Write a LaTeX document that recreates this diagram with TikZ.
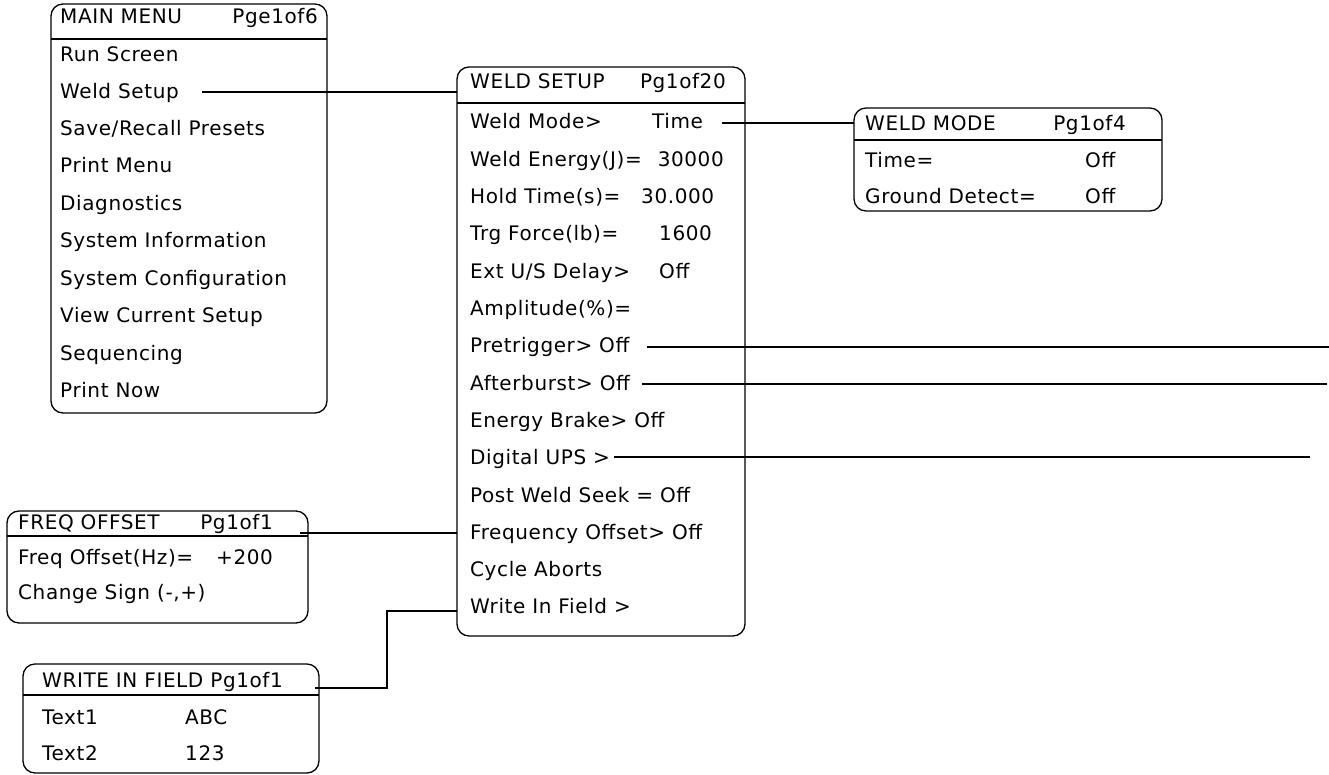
\documentclass[tikz,border=0pt]{standalone}
\usepackage{fontspec}
\setmainfont{DejaVu Sans}[LetterSpace=3.0]
\newcommand\mfs{\fontsize{20}{24}\selectfont}
\begin{document}
\begin{tikzpicture}[x=1pt,y=-1pt,
  box/.style={draw, line width=1.3pt, rounded corners=12pt, inner sep=0pt, outer sep=0pt},
  txt/.style={anchor=base west, inner sep=0pt, font=\mfs},
  rtxt/.style={anchor=base east, inner sep=0pt, font=\mfs},
  conn/.style={line width=1.3pt},
  divl/.style={line width=1.3pt}]
\useasboundingbox (0,0) rectangle (1329,775);

% ---------- boxes ----------
\node[box, minimum width=276pt, minimum height=409pt] (mm) at (189,208.5) {};
\node[box, minimum width=288pt, minimum height=569pt] (ws) at (601,351.5) {};
\node[box, minimum width=308pt, minimum height=103pt] (wm) at (1008,159.5) {};
\node[box, minimum width=301pt, minimum height=112pt] (fo) at (157.5,567) {};
\node[box, minimum width=296pt, minimum height=109pt] (wf) at (171,718.5) {};

% ---------- header dividers ----------
\draw[divl] ([yshift=-35pt]mm.north west) -- ([yshift=-35pt]mm.north east);
\draw[divl] ([yshift=-36pt]ws.north west) -- ([yshift=-36pt]ws.north east);
\draw[divl] ([yshift=-32pt]wm.north west) -- ([yshift=-32pt]wm.north east);
\draw[divl] ([yshift=-25pt]fo.north west) -- ([yshift=-25pt]fo.north east);
\draw[divl] ([yshift=-31pt]wf.north west) -- ([yshift=-31pt]wf.north east);

% ---------- main menu ----------
\node[txt] (mmh) at (60,24) {MAIN MENU};
\node[rtxt] (mmp) at (318,24) {Pge1of6};
\node[txt] (mm1) at (60,62) {Run Screen};
\node[txt] (mm2) at (60,98.5) {Weld Setup};
\node[txt] (mm3) at (60,135.5) {Save/Recall Presets};
\node[txt] (mm4) at (60,173) {Print Menu};
\node[txt] (mm5) at (60,210.5) {Diagnostics};
\node[txt] (mm6) at (60,248) {System Information};
\node[txt] (mm7) at (60,285.5) {System Configuration};
\node[txt] (mm8) at (60,323) {View Current Setup};
\node[txt] (mm9) at (60,360) {Sequencing};
\node[txt] (mm10) at (60,397.5) {Print Now};

% ---------- weld setup ----------
\node[txt] (wsh) at (470,89) {WELD SETUP};
\node[rtxt] (wsp) at (726,89) {Pg1of20};
\node[txt] (ws1) at (470,129) {Weld Mode>};
\node[txt] (ws1v) at (652,129) {Time};
\node[txt] (ws2) at (470,166.3) {Weld Energy(J)=};
\node[rtxt] (ws2v) at (724,166.3) {30000};
\node[txt] (ws3) at (470,203.6) {Hold Time(s)=};
\node[txt] (ws3v) at (641,203.6) {30.000};
\node[txt] (ws4) at (470,240.9) {Trg Force(lb)=};
\node[txt] (ws4v) at (659,240.9) {1600};
\node[txt] (ws5) at (470,278.2) {Ext U/S Delay>};
\node[txt] (ws5v) at (659,278.2) {Off};
\node[txt] (ws6) at (470,315.5) {Amplitude(\%)=};
\node[txt] (ws7) at (470,352.8) {Pretrigger> Off};
\node[txt] (ws8) at (470,390.1) {Afterburst> Off};
\node[txt] (ws9) at (470,427.4) {Energy Brake> Off};
\node[txt] (ws10) at (470,464.7) {Digital UPS >};
\node[txt] (ws11) at (470,502) {Post Weld Seek = Off};
\node[txt] (ws12) at (470,539.3) {Frequency Offset> Off};
\node[txt] (ws13) at (470,576.6) {Cycle Aborts};
\node[txt] (ws14) at (470,613.9) {Write In Field >};

% ---------- weld mode ----------
\node[txt] (wmh) at (865,131) {WELD MODE};
\node[rtxt] (wmp) at (1126,131) {Pg1of4};
\node[txt] (wm1) at (865,168) {Time=};
\node[txt] (wm1v) at (1085,168) {Off};
\node[txt] (wm2) at (865,204) {Ground Detect=};
\node[txt] (wm2v) at (1085,204) {Off};

% ---------- freq offset ----------
\node[txt] (foh) at (18,529) {FREQ OFFSET};
\node[rtxt] (fop) at (273,529) {Pg1of1};
\node[txt] (fo1) at (18,564) {Freq Offset(Hz)=};
\node[txt] (fo1v) at (216,564) {+200};
\node[txt] (fo2) at (18,599) {Change Sign (-,+)};

% ---------- write in field ----------
\node[txt] (wfh) at (42,687) {WRITE IN FIELD Pg1of1};
\node[txt] (wf1) at (42,724) {Text1};
\node[txt] (wf1v) at (185,724) {ABC};
\node[txt] (wf2) at (42,760) {Text2};
\node[txt] (wf2v) at (185,760) {123};

% ---------- connectors ----------
\coordinate (c1) at (202,92);
\draw[conn] (c1) -- (c1 -| ws.west);
\coordinate (c2) at (722,123);
\draw[conn] (c2) -- (c2 -| wm.west);
\coordinate (c3) at (300,533);
\draw[conn] (c3) -- (c3 -| ws.west);
\coordinate (c4) at (315,688);
\coordinate (bend) at (387,688);
\coordinate (y611) at (0,611);
\draw[conn] (c4) -- (bend) |- (ws.west |- y611);
\coordinate (p1) at (647,347);
\coordinate (p1e) at (1329,347);
\draw[conn] (p1) -- (p1e);
\coordinate (p2) at (642,384);
\coordinate (p2e) at (1327,384);
\draw[conn] (p2) -- (p2e);
\coordinate (p3) at (614,457);
\coordinate (p3e) at (1310,457);
\draw[conn] (p3) -- (p3e);
\end{tikzpicture}
\end{document}
